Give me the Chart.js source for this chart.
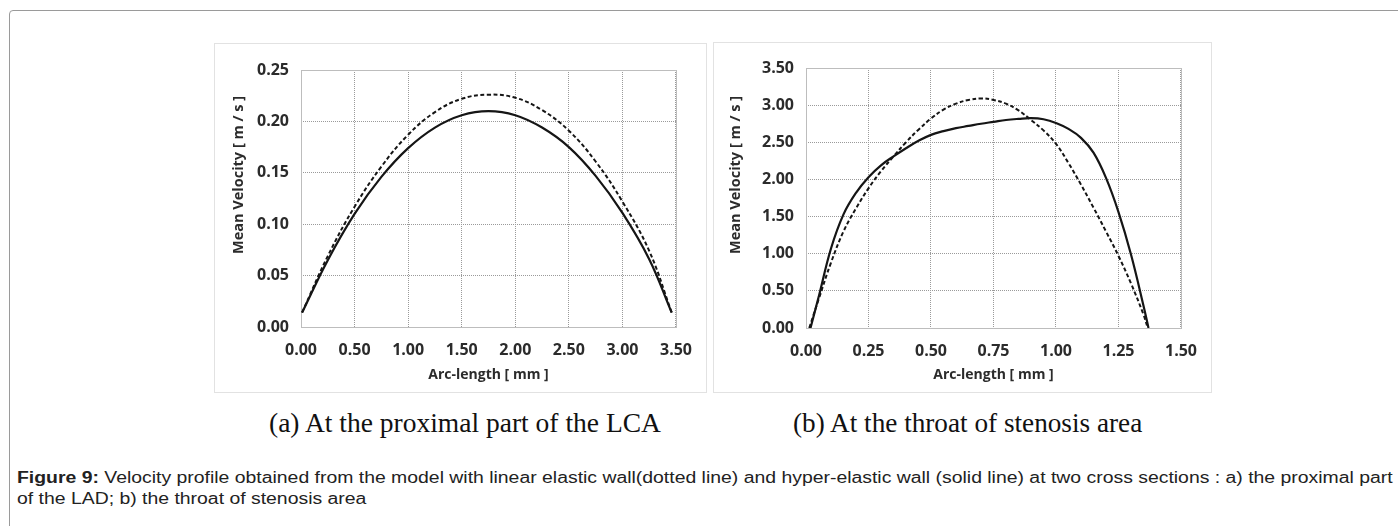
<!DOCTYPE html>
<html>
<head>
<meta charset="utf-8">
<script src="https://cdn.jsdelivr.net/npm/chart.js@4.4.1/dist/chart.umd.min.js"></script>
<style>
  html, body { margin: 0; padding: 0; background: #fff; }
  body { width: 1398px; height: 526px; position: relative; overflow: hidden; }
  #frame { position: absolute; left: 9px; top: 10px; width: 1420px; height: 600px;
    border: 1px solid #9a9a9a; border-radius: 4px; }
  .panel { position: absolute; background: #fff; border: 1px solid #e2e2e2; box-sizing: border-box; }
  .sub { position: absolute; font-family: "Liberation Serif", "Times New Roman", serif; font-size: 28px;
    color: #111; white-space: nowrap; transform-origin: 0 50%; line-height: 1; }
  .cap { position: absolute; left: 17px; font-family: "Liberation Sans Narrow", "Liberation Sans", Arial, sans-serif;
    font-size: 16px; color: #222; white-space: nowrap; transform-origin: 0 50%; line-height: 1; }
</style>
</head>
<body>
<div id="frame"></div>
<div class="panel" style="left:214px;top:43px;width:493px;height:350px;"><canvas id="chartA"></canvas></div>
<div class="panel" style="left:713px;top:42px;width:499px;height:351px;"><canvas id="chartB"></canvas></div>

<div class="sub" id="subA" style="left:269px;top:409px;">(a) At the proximal part of the LCA</div>
<div class="sub" id="subB" style="left:793px;top:409px;">(b) At the throat of stenosis area</div>

<div class="cap" id="cap1" style="top:470px;"><b>Figure 9:</b> Velocity profile obtained from the model with linear elastic wall(dotted line) and hyper-elastic wall (solid line) at two cross sections : a) the proximal part</div>
<div class="cap" id="cap2" style="top:491px;">of the LAD; b) the throat of stenosis area</div>

<script>
// (a) proximal part of the LCA
const xA = [0.01, 0.25, 0.5, 0.75, 1.0, 1.25, 1.5, 1.75, 2.0, 2.25, 2.5, 2.75, 3.0, 3.25, 3.46];
const hyperA = [0.014, 0.065, 0.110, 0.146, 0.174, 0.194, 0.206, 0.210, 0.206, 0.194, 0.175, 0.147, 0.111, 0.066, 0.014];
const linearA = [0.014, 0.069, 0.117, 0.156, 0.187, 0.209, 0.222, 0.226, 0.223, 0.211, 0.191, 0.161, 0.122, 0.074, 0.014];

// (b) throat of stenosis
const xLinearB = [0.013, 0.05, 0.10, 0.15, 0.20, 0.25, 0.30, 0.35, 0.40, 0.45, 0.50, 0.55, 0.60, 0.65, 0.70,
  0.75, 0.80, 0.85, 0.90, 0.95, 1.00, 1.05, 1.10, 1.15, 1.20, 1.25, 1.30, 1.35, 1.367];
const linearB = [0, 0.38, 0.88, 1.30, 1.61, 1.88, 2.11, 2.31, 2.50, 2.67, 2.82, 2.94, 3.02, 3.07, 3.09,
  3.07, 3.02, 2.93, 2.80, 2.66, 2.48, 2.22, 1.93, 1.62, 1.30, 0.97, 0.60, 0.18, 0];
const xHyperB = [0.018, 0.05, 0.10, 0.15, 0.20, 0.25, 0.30, 0.35, 0.40, 0.45, 0.50, 0.55, 0.60, 0.65, 0.70,
  0.75, 0.80, 0.85, 0.90, 0.95, 1.00, 1.05, 1.10, 1.15, 1.20, 1.25, 1.30, 1.35, 1.37];
const hyperB = [0, 0.41, 1.07, 1.53, 1.82, 2.03, 2.19, 2.31, 2.42, 2.52, 2.60, 2.65, 2.69, 2.72, 2.75,
  2.775, 2.80, 2.815, 2.825, 2.81, 2.76, 2.68, 2.56, 2.36, 2.02, 1.56, 0.99, 0.30, 0];

const yTitle = 'Mean Velocity [ m / s ]';
const xTitle = 'Arc-length [ mm ]';

const tickFont = { family: 'Open Sans', weight: '700', size: 16 };
const titleFont = { family: 'Open Sans', weight: '700', size: 14 };
const inkColor = '#2b2b2b';

const toPoints = (xs, ys) => xs.map((x, i) => ({ x, y: ys[i] }));

// plot-area frame and the rotated y title (sits above the plot centre, as in the original)
const frameAndTitle = {
  id: 'frameAndTitle',
  beforeDatasetsDraw(chart) {
    const { ctx, chartArea: a } = chart;
    ctx.save();
    ctx.strokeStyle = '#bdbdbd';
    ctx.lineWidth = 1;
    ctx.strokeRect(Math.round(a.left) + 0.5, Math.round(a.top) + 0.5,
      Math.round(a.right - a.left), Math.round(a.bottom - a.top));
    ctx.restore();
  },
  afterDraw(chart, args, opts) {
    const ctx = chart.ctx;
    ctx.save();
    ctx.translate(opts.x, opts.y);
    ctx.rotate(-Math.PI / 2);
    ctx.font = '700 14.5px "Open Sans"';
    ctx.fillStyle = inkColor;
    ctx.textAlign = 'center';
    ctx.textBaseline = 'middle';
    ctx.fillText(opts.text, 0, 0);
    ctx.restore();
  },
};

function makeChart(id, cfg) {
  const lineStyle = (dashed) => ({
    showLine: true,
    borderColor: '#151515',
    borderWidth: dashed ? 2 : 2.2,
    borderDash: dashed ? [4, 2.5] : [],
    pointRadius: 0,
    fill: false,
    tension: 0.4,
  });
  return new Chart(document.getElementById(id), {
    type: 'scatter',
    data: {
      datasets: [
        { label: 'linear elastic', data: cfg.linear, ...lineStyle(true) },
        { label: 'hyper-elastic', data: cfg.hyper, ...lineStyle(false) },
      ],
    },
    options: {
      responsive: true,
      maintainAspectRatio: false,
      animation: false,
      layout: { padding: { left: 0, right: cfg.padRight, top: cfg.padTop, bottom: 0 } },
      plugins: {
        legend: { display: false },
        tooltip: { enabled: false },
        frameAndTitle: { text: yTitle, x: cfg.titleX, y: cfg.titleY },
      },
      scales: {
        x: {
          type: 'linear',
          min: 0,
          max: cfg.xMax,
          afterBuildTicks: (s) => { s.ticks = cfg.xTicks.map((v) => ({ value: v })); },
          afterFit: (s) => { s.height = cfg.xHeight; },
          grid: { color: '#9a9a9a', drawTicks: false },
          border: { display: false, dash: [1, 1] },
          ticks: { color: inkColor, font: tickFont, padding: 14, maxRotation: 0, callback: (v) => v.toFixed(2) },
          title: { display: true, text: xTitle, color: inkColor, font: titleFont, padding: { top: 0, bottom: 9 } },
        },
        y: {
          type: 'linear',
          min: 0,
          max: cfg.yMax,
          afterBuildTicks: (s) => { s.ticks = cfg.yTicks.map((v) => ({ value: v })); },
          afterFit: (s) => { s.width = cfg.yWidth; },
          grid: { color: '#9a9a9a', drawTicks: false },
          border: { display: false, dash: [1, 1] },
          ticks: { color: inkColor, font: tickFont, padding: 12, callback: (v) => v.toFixed(2) },
        },
      },
    },
    plugins: [frameAndTitle],
  });
}

const xTicksA = [0, 0.5, 1.0, 1.5, 2.0, 2.5, 3.0, 3.5];
const yTicksA = [0, 0.05, 0.10, 0.15, 0.20, 0.25];
const xTicksB = [0, 0.25, 0.5, 0.75, 1.0, 1.25, 1.5];
const yTicksB = [0, 0.5, 1.0, 1.5, 2.0, 2.5, 3.0, 3.5];

makeChart('chartA', {
  linear: toPoints(xA, linearA), hyper: toPoints(xA, hyperA),
  xMax: 3.5, yMax: 0.25, xTicks: xTicksA, yTicks: yTicksA,
  padTop: 26, padRight: 23, yWidth: 86, xHeight: 65, titleX: 24, titleY: 131,
});
makeChart('chartB', {
  linear: toPoints(xLinearB, linearB), hyper: toPoints(xHyperB, hyperB),
  xMax: 1.5, yMax: 3.5, xTicks: xTicksB, yTicks: yTicksB,
  padTop: 25, padRight: 24, yWidth: 92, xHeight: 64, titleX: 22, titleY: 132,
});

// squeeze caption text to the widths seen in the figure
function fitWidth(el, w) {
  el.style.transform = 'scaleX(' + (w / el.scrollWidth) + ')';
}
fitWidth(document.getElementById('subA'), 392);
fitWidth(document.getElementById('subB'), 349);
const c1 = document.getElementById('cap1');
const k = 1376 / c1.scrollWidth;
c1.style.transform = 'scaleX(' + k + ')';
document.getElementById('cap2').style.transform = 'scaleX(' + k + ')';
</script>
</body>
</html>
